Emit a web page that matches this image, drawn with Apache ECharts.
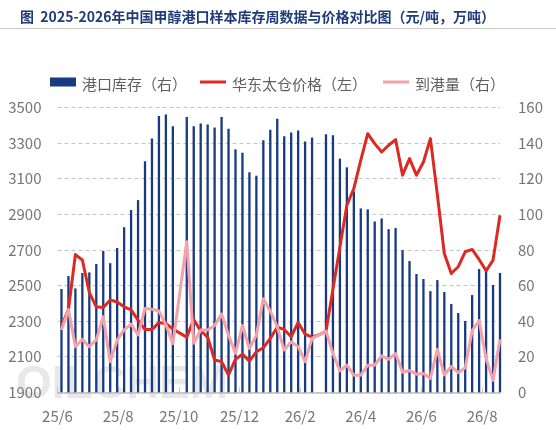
<!DOCTYPE html>
<html>
<head>
<meta charset="utf-8">
<script src="https://cdn.jsdelivr.net/npm/echarts@6/dist/echarts.min.js"></script>
<style>
html,body{margin:0;padding:0;background:#fff;}
#main{width:556px;height:430px;}
</style>
</head>
<body>
<div id="main"></div>
<script>
// ---- data ----
const titleText = '图  2025-2026年中国甲醇港口样本库存周数据与价格对比图（元/吨，万吨）';
const seriesNames = ['港口库存（右）', '华东太仓价格（左）', '到港量（右）'];
const axisStart = '2025-06-01';
const axisEnd = '2026-08-20';
const tickLabels = ['25/6', '25/8', '25/10', '25/12', '26/2', '26/4', '26/6', '26/8'];
const weeks = [
  '2025-06-05','2025-06-12','2025-06-19','2025-06-26','2025-07-03','2025-07-10','2025-07-17','2025-07-24',
  '2025-07-31','2025-08-07','2025-08-14','2025-08-21','2025-08-28','2025-09-04','2025-09-11','2025-09-18',
  '2025-09-25','2025-10-02','2025-10-09','2025-10-16','2025-10-23','2025-10-30','2025-11-06','2025-11-13',
  '2025-11-20','2025-11-27','2025-12-04','2025-12-11','2025-12-18','2025-12-25','2026-01-01','2026-01-08',
  '2026-01-15','2026-01-22','2026-01-29','2026-02-05','2026-02-12','2026-02-19','2026-02-26','2026-03-05',
  '2026-03-12','2026-03-19','2026-03-26','2026-04-02','2026-04-09','2026-04-16','2026-04-23','2026-04-30',
  '2026-05-07','2026-05-14','2026-05-21','2026-05-28','2026-06-04','2026-06-11','2026-06-18','2026-06-25',
  '2026-07-02','2026-07-09','2026-07-16','2026-07-23','2026-07-30','2026-08-06','2026-08-13','2026-08-20'
];
const inventory = [
  58.0, 65.3, 58.3, 67.0, 67.3, 72.0, 79.3, 72.5, 81.0, 92.7,
  102.3, 107.9, 129.7, 142.5, 155.1, 156.0, 149.4, null, 154.5, 149.4,
  150.9, 150.3, 148.7, 154.5, 148.0, 136.4, 134.5, 123.5, 121.6, 141.5,
  147.4, 153.6, 143.7, 145.8, 147.0, 140.8, 143.0, null, 144.9, 144.3,
  131.2, 126.3, 112.8, 103.2, 102.7, 95.9, 97.6, 91.6, 92.2, 79.8,
  73.7, 66.4, 63.6, 56.8, 63.0, 56.3, 49.6, 44.5, 40.0, 54.6,
  69.2, 68.6, 60.2, 67.0
];
const price = [
  2272, 2365, 2673, 2643, 2460, 2380, 2376, 2418, 2407, 2380,
  2363, 2305, 2252, 2252, 2291, 2287, 2255, 2232, 2210, 2308,
  2245, 2210, 2081, 2072, 1997, 2086, 2114, 2075, 2128, 2150,
  2203, 2265, 2253, 2212, 2292, 2226, 2210, 2223, 2242, 2479,
  2715, 2950, 3044, 3203, 3352, 3296, 3249, 3287, 3319, 3119,
  3212, 3119, 3193, 3324, 3010, 2679, 2567, 2605, 2689, 2702,
  2646, 2582, 2642, 2894
];
const arrivals = [
  35.0, 46.5, 25.6, 29.7, 25.6, 29.4, 42.4, 17.2, 29.4, 35.0,
  38.3, 32.2, 47.1, 46.6, 45.6, 38.0, 27.3, 56.0, 84.5, 27.5,
  35.0, 35.0, 37.5, 43.9, 32.0, 21.8, 37.5, 24.6, 32.0, 52.5,
  45.5, 36.8, 23.7, 28.4, 25.6, 17.2, 30.3, 32.2, 34.4, 21.8,
  12.0, 15.3, 9.6, 9.6, 15.2, 15.2, 20.5, 18.5, 21.8, 11.3,
  12.2, 10.2, 10.5, 7.8, 24.1, 9.7, 14.5, 11.0, 13.8, 34.7,
  40.3, 19.0, 6.7, 29.8
];

// ---- chart ----
const DAY = 86400000;
const dayOf = d => Math.round((Date.parse(d) - Date.parse(axisStart)) / DAY);
const xs = weeks.map(dayOf);
const pair = arr => arr.map((v, i) => [xs[i], v == null ? '-' : v]);
const tickStep = 61;

const numFont = 'Noto Sans CJK SC';
const cjkFont = 'Noto Sans CJK SC';
const labelColor = '#767676';
const barColor = '#173a80';
const priceColor = '#dc2a22';
const arrivalColor = '#f4a1aa';

// legend layout (text via legend component, swatches as graphics)
const legendTop = 72;
const legendLefts = [48, 198, 381];
const swatchCenterY = 82;

const chart = echarts.init(document.getElementById('main'), null, {renderer: 'canvas'});
const legendBase = {
  orient: 'horizontal', top: legendTop, itemGap: 0, itemWidth: 26, itemHeight: 9,
  textStyle: {fontSize: 15, color: '#5f5f5f', fontFamily: cjkFont, padding: [0, 0, 0, -2]},
  selectedMode: false
};
chart.setOption({
  animation: false,
  backgroundColor: '#ffffff',
  title: {
    text: titleText, left: 15, top: 5,
    textStyle: {fontSize: 14, fontWeight: 'bold', color: '#1f3b78', fontFamily: cjkFont}
  },
  graphic: [
    {type: 'line', shape: {x1: 0, y1: 28.5, x2: 556, y2: 28.5}, style: {stroke: '#c8c8c8', lineWidth: 1}, z: 0},
    {type: 'text', left: 16, top: 362, z: 0, silent: true,
     style: {text: 'OILCHEM', font: 'bold 46px "Liberation Sans"', fill: 'rgba(185,185,185,0.32)'}},
    {type: 'rect', shape: {x: legendLefts[0] + 2, y: swatchCenterY - 4.5, width: 26, height: 9},
     style: {fill: barColor}, z: 10, silent: true},
    {type: 'rect', shape: {x: legendLefts[1] + 2, y: swatchCenterY - 1.5, width: 26, height: 3},
     style: {fill: priceColor}, z: 10, silent: true},
    {type: 'rect', shape: {x: legendLefts[2] + 2, y: swatchCenterY - 1.5, width: 26, height: 3},
     style: {fill: arrivalColor}, z: 10, silent: true}
  ],
  legend: seriesNames.map((name, i) => Object.assign({}, legendBase, {
    left: legendLefts[i], data: [{name: name, icon: 'none'}]
  })),
  grid: {left: 57.5, right: 56, top: 107.3, bottom: 37.7, containLabel: false},
  xAxis: {
    type: 'value', min: 0, max: dayOf(axisEnd), interval: tickStep,
    axisLine: {show: true, lineStyle: {color: '#bfbfbf', width: 1.5}},
    axisTick: {show: true, inside: true, length: 5, lineStyle: {color: '#c8c8c8'}},
    splitLine: {show: false},
    axisLabel: {
      margin: 16, fontSize: 15, color: labelColor, fontFamily: numFont,
      showMaxLabel: false,
      formatter: v => (v % tickStep === 0 ? (tickLabels[v / tickStep] || '') : '')
    }
  },
  yAxis: [
    {
      type: 'value', min: 1900, max: 3500, interval: 200, position: 'left',
      axisLine: {show: false}, axisTick: {show: false},
      splitLine: {show: true, lineStyle: {color: '#c4c4c4', type: [4, 3], width: 1}},
      axisLabel: {margin: 16, fontSize: 15, color: labelColor, fontFamily: numFont,
        formatter: v => String(v)}
    },
    {
      type: 'value', min: 0, max: 160, interval: 20, position: 'right',
      axisLine: {show: false}, axisTick: {show: false}, splitLine: {show: false},
      axisLabel: {margin: 18, fontSize: 15, color: labelColor, fontFamily: numFont,
        formatter: v => String(v)}
    }
  ],
  series: [
    {
      name: seriesNames[0], type: 'bar', yAxisIndex: 1, barWidth: 2.3,
      itemStyle: {color: barColor}, data: pair(inventory), z: 2
    },
    {
      name: seriesNames[1], type: 'line', yAxisIndex: 0, symbol: 'none', showSymbol: false,
      lineStyle: {color: priceColor, width: 3, join: 'round'}, itemStyle: {color: priceColor},
      data: pair(price), z: 3
    },
    {
      name: seriesNames[2], type: 'line', yAxisIndex: 1, symbol: 'none', showSymbol: false,
      lineStyle: {color: arrivalColor, width: 3, join: 'round'}, itemStyle: {color: arrivalColor},
      data: pair(arrivals), z: 4
    }
  ]
});
</script>
</body>
</html>
